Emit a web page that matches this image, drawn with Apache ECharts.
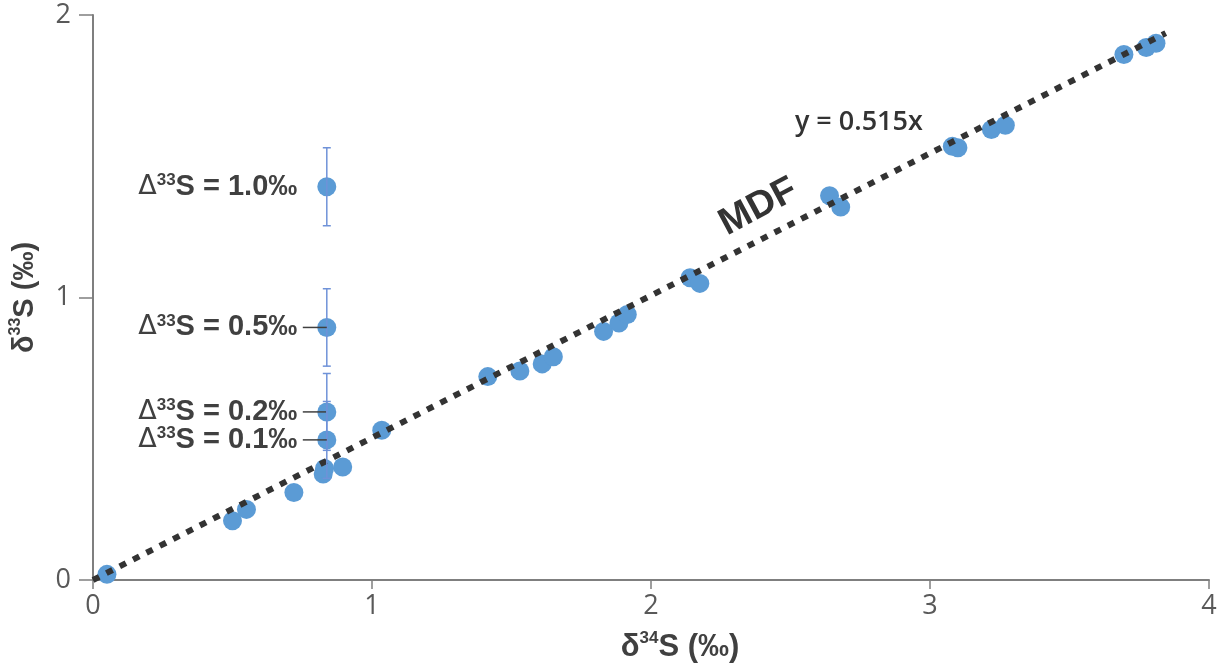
<!DOCTYPE html>
<html><head><meta charset="utf-8">
<script src="https://cdn.jsdelivr.net/npm/echarts@6/dist/echarts.min.js"></script>
<style>html,body{margin:0;padding:0;background:#fff}#c{width:1222px;height:669px}</style>
</head><body><div id="c"></div>
<script>
// Measured samples: δ34S (x) and δ33S (y)
const sampleX = [0.05, 0.50, 0.55, 0.72, 0.825, 0.83, 0.895, 1.035, 1.415, 1.53, 1.61, 1.65, 1.83, 1.885, 1.915, 2.14, 2.175, 2.64, 2.68, 3.08, 3.10, 3.22, 3.27, 3.695, 3.775, 3.81];
const sampleY = [0.02, 0.21, 0.25, 0.31, 0.375, 0.395, 0.40, 0.53, 0.72, 0.74, 0.765, 0.79, 0.88, 0.91, 0.94, 1.07, 1.05, 1.36, 1.32, 1.535, 1.53, 1.595, 1.61, 1.86, 1.885, 1.90];
// Reference points with Δ33S offsets
const refX = [0.838, 0.838, 0.838, 0.838];
const refY = [1.392, 0.894, 0.595, 0.496];
const refErr = [0.138, 0.137, 0.136, 0.136];
const refLabel = ['1.0', '0.5', '0.2', '0.1'];
const refLeader = [0, 1, 1, 1];
// MDF line endpoints
const mdfX = [0, 3.845];
const mdfY = [0, 1.936];
const xTicks = [0, 1, 2, 3, 4];
const yTicks = [0, 1, 2];

const chart = echarts.init(document.getElementById('c'));
const axisGrey = '#7f7f7f';
const tickFont = {fontFamily: 'Open Sans', fontSize: 27, color: '#595959'};
function nameRich(size) {
  return {
    b: {fontFamily: 'Liberation Sans', fontWeight: 'bold', fontSize: size, color: '#404040', lineHeight: size + 4},
    s: {fontFamily: 'Liberation Sans', fontWeight: 'bold', fontSize: Math.round(size * 0.55), color: '#404040', verticalAlign: 'top', lineHeight: size + 4}
  };
}
chart.setOption({
  animation: false,
  grid: {left: 92, right: 13, top: 15, bottom: 89, containLabel: false},
  xAxis: {
    type: 'value', min: xTicks[0], max: xTicks[xTicks.length - 1], interval: 1,
    axisLine: {show: true, lineStyle: {color: axisGrey, width: 2}},
    axisTick: {show: true, length: 9, lineStyle: {color: axisGrey, width: 1.5}},
    splitLine: {show: false},
    axisLabel: Object.assign({margin: 13}, tickFont),
    name: '{b|δ}{s|34}{b|S (‰)}', nameLocation: 'middle', nameGap: 50,
    nameTextStyle: {rich: nameRich(31), padding: [0, 0, 0, 58]}
  },
  yAxis: {
    type: 'value', min: yTicks[0], max: yTicks[yTicks.length - 1], interval: 1,
    axisLine: {show: true, lineStyle: {color: axisGrey, width: 2}},
    axisTick: {show: true, length: 14, lineStyle: {color: axisGrey, width: 1.5}},
    splitLine: {show: false},
    axisLabel: Object.assign({margin: 22}, tickFont),
    name: '{b|δ}{s|33}{b|S (‰)}', nameLocation: 'middle', nameGap: 52,
    nameTextStyle: {rich: nameRich(29)}
  },
  series: [
    {
      type: 'scatter', symbol: 'circle', symbolSize: 19, z: 3,
      itemStyle: {color: '#5b9bd5', opacity: 1},
      data: sampleX.map((x, i) => [x, sampleY[i]])
    },
    {
      type: 'line', z: 4, symbol: 'none',
      lineStyle: {color: '#333333', width: 6, type: [7, 8], cap: 'butt'},
      data: mdfX.map((x, i) => [x, mdfY[i]]),
      markPoint: {
        symbol: 'circle', symbolSize: 0,
        data: [
          {coord: [2.385, 1.32], label: {show: true, formatter: 'MDF', rotate: 28, fontFamily: 'Liberation Sans', fontWeight: 'bold', fontSize: 38, color: '#333333'}},
          {coord: [2.745, 1.62], label: {show: true, formatter: 'y = 0.515x', fontFamily: 'Open Sans', fontWeight: 600, fontSize: 27, color: '#333333'}}
        ]
      }
    },
    {
      type: 'scatter', symbol: 'circle', symbolSize: 19, z: 5,
      itemStyle: {color: '#5b9bd5', opacity: 1},
      data: refX.map((x, i) => [x, refY[i]]),
      label: {
        show: true, position: 'left', distance: 20,
        formatter: p => '{d|Δ}{s|33}{b|S = ' + refLabel[p.dataIndex] + '‰}',
        rich: {
          d: {fontFamily: 'DejaVu Sans', fontWeight: 'normal', fontSize: 27, color: '#404040', lineHeight: 30},
          s: {fontFamily: 'Liberation Sans', fontWeight: 'bold', fontSize: 17, color: '#404040', verticalAlign: 'top', lineHeight: 30},
          b: {fontFamily: 'Liberation Sans', fontWeight: 'bold', fontSize: 29, color: '#404040', lineHeight: 30}
        }
      }
    },
    {
      type: 'custom', z: 6,
      data: refX.map((x, i) => [x, refY[i], refErr[i], refLeader[i]]),
      renderItem: (params, api) => {
        const x = api.value(0), y = api.value(1), e = api.value(2), lead = api.value(3);
        const p = api.coord([x, y]);
        const t = api.coord([x, y + e]);
        const b = api.coord([x, y - e]);
        const st = {stroke: '#6f92d8', lineWidth: 1.5};
        const ch = [
          {type: 'line', shape: {x1: t[0], y1: t[1], x2: b[0], y2: b[1]}, style: st},
          {type: 'line', shape: {x1: t[0] - 4, y1: t[1], x2: t[0] + 4, y2: t[1]}, style: st},
          {type: 'line', shape: {x1: b[0] - 4, y1: b[1], x2: b[0] + 4, y2: b[1]}, style: st}
        ];
        if (lead) ch.push({type: 'line', shape: {x1: p[0] - 24, y1: p[1], x2: p[0], y2: p[1]}, style: {stroke: '#404040', lineWidth: 1.5}});
        return {type: 'group', children: ch};
      }
    }
  ]
});
</script></body></html>
